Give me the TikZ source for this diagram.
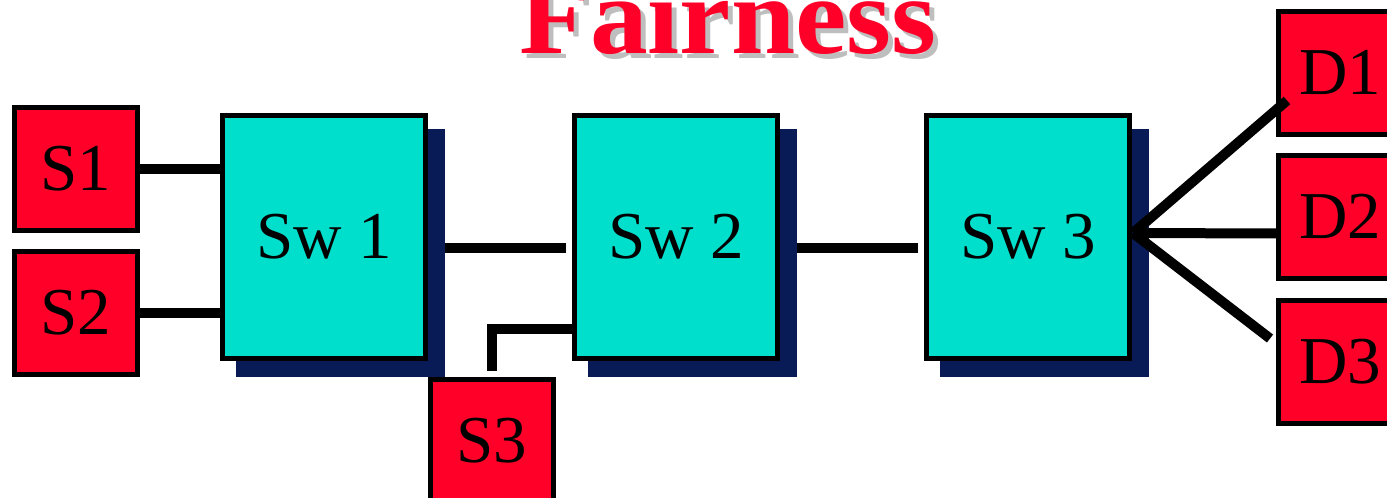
\documentclass[tikz,border=0pt]{standalone}
\usepackage{fontspec}
\setmainfont{Liberation Serif}
\usetikzlibrary{calc}
\definecolor{boxred}{RGB}{255,0,41}
\definecolor{swcyan}{RGB}{0,222,204}
\definecolor{shnavy}{RGB}{9,27,87}
\definecolor{titlegray}{RGB}{190,190,190}
\tikzset{
 endbox/.style={draw=black, fill=boxred, line width=5pt, minimum width=123pt, minimum height=123pt, inner sep=0pt, font=\fontsize{67}{70}\selectfont},
 swbox/.style={draw=black, fill=swcyan, line width=5pt, minimum width=203pt, minimum height=243pt, inner sep=0pt, font=\fontsize{67}{70}\selectfont},
 shadowbox/.style={fill=shnavy, minimum width=209pt, minimum height=248pt, inner sep=0pt, draw=none},
 link/.style={line width=10pt},
 titletext/.style={inner sep=0pt, anchor=base, font=\fontsize{110}{120}\selectfont\bfseries}
}
\begin{document}
\begin{tikzpicture}[x=1pt,y=-1pt]
\useasboundingbox (0,0) rectangle (1387,498);
\clip (0,0) rectangle (1387,498);
% title
\node[titletext, text=titlegray] (titleshadow) at (733,58) {\scalebox{1.05}[1]{Fairness}};
\node[titletext, text=boxred] (title) at (728,53) {\scalebox{1.05}[1]{Fairness}};
% shadows
\node[shadowbox] (sh1) at (340.5,253) {};
\node[shadowbox] (sh2) at (692.5,253) {};
\node[shadowbox] (sh3) at (1044.5,253) {};
% switches
\node[swbox] (Sw1) at (324,237) {Sw 1};
\node[swbox] (Sw2) at (676,237) {Sw 2};
\node[swbox] (Sw3) at (1028,237) {Sw 3};
% end hosts
\node[endbox] (S1) at (76,169) {S1};
\node[endbox] (S2) at (76,313) {S2};
\node[endbox] (S3) at (492,441) {S3};
\node[endbox] (D1) at (1340,72.5) {D1};
\node[endbox] (D2) at (1340,216.5) {D2};
\node[endbox] (D3) at (1340,361.5) {D3};
% links
\draw[link] (S1.east) -- (S1.east -| Sw1.west);
\draw[link] (S2.east) -- (S2.east -| Sw1.west);
\draw[link] ($(sh1.east)+(0,-5)$) -- ($(Sw2.west)+(-6,11)$);
\draw[link] ($(sh2.east)+(0,-5)$) -- ($(Sw3.west)+(-6,11)$);
\draw[link] ($(S3.north)+(0,-6)$) |- ($(Sw2.west)+(0,92)$);
\coordinate (hub) at ($(Sw3.east)+(1,-4)$);
\draw[link] (hub) -- ($(D1.west)+(11,28)$);
\draw[link] (hub) -- ($(D2.west)+(4,17)$);
\draw[link] (hub) -- ($(D3.west)+(-6,-23)$);
\end{tikzpicture}
\end{document}
